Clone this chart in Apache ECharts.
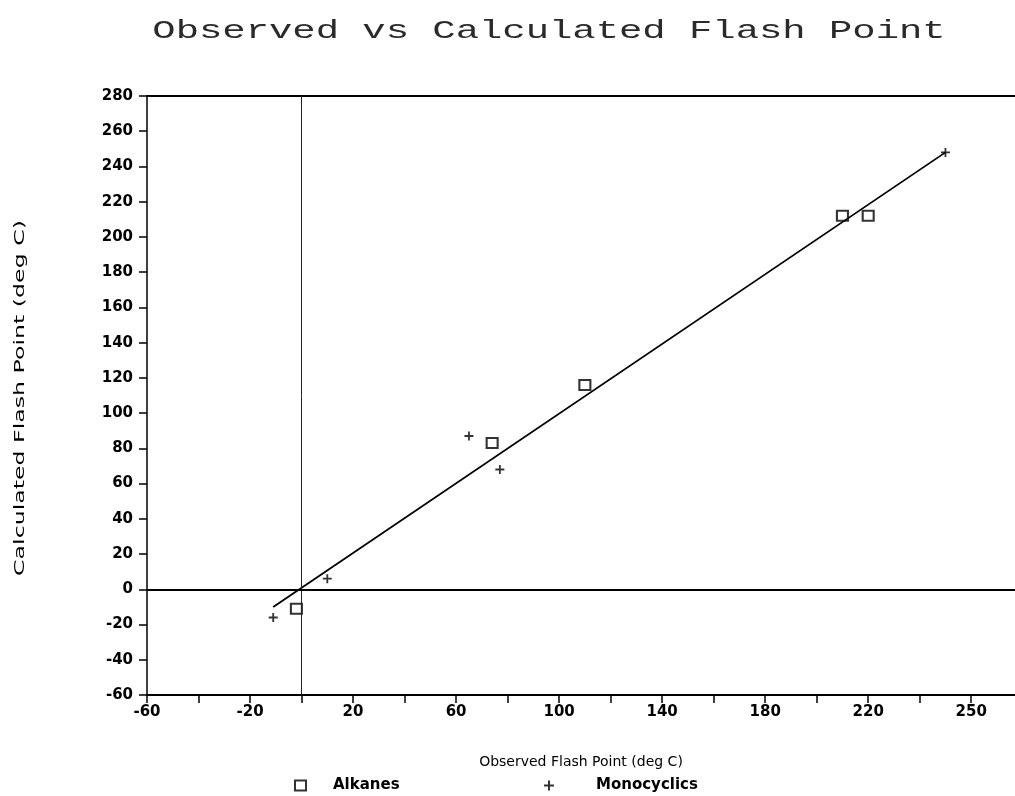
<!DOCTYPE html>
<html><head><meta charset="utf-8">
<script src="https://cdn.jsdelivr.net/npm/echarts@6.0.0/dist/echarts.min.js"></script>
<style>html,body{margin:0;padding:0;background:#fff}#c{width:1015px;height:796px}</style>
</head><body><div id="c"></div>
<script>
// Data
const alkanesObserved   = [-2, 74, 110, 210, 220];
const alkanesCalculated = [-11, 83, 116, 212, 212];
const monoObserved      = [-11, 10, 65, 77, 250];
const monoCalculated    = [-16, 6, 87, 68, 248];
const fitObserved       = [-11, 250];
const fitCalculated     = [-10, 248];
const xLabelValues = [-60, -20, 20, 60, 100, 140, 180, 220, 260];
const xLabelTexts  = ['-60', '-20', '20', '60', '100', '140', '180', '220', '250'];

const zip = (a, b) => a.map((v, i) => [v, b[i]]);
const PLUS = 'path://M4,0H6V4H10V6H6V10H4V6H0V4H4Z';
const labelFont = '"DejaVu Sans", sans-serif';
const X_MIN = -60, X_MAX = 277, Y_MIN = -60, Y_MAX = 280;

const chart = echarts.init(document.getElementById('c'), null, {renderer: 'canvas'});
chart.setOption({
  backgroundColor: '#fff',
  animation: false,
  grid: {left: 147, right: 0, top: 96, bottom: 101},
  graphic: [
    {type: 'text', x: 549, y: 31, scaleX: 1.08, scaleY: 0.74,
     style: {text: 'Observed vs Calculated Flash Point', font: '36px "Liberation Mono", monospace',
             fill: '#2a2a2a', align: 'center', verticalAlign: 'middle'}},
    {type: 'text', x: 20, y: 398, rotation: Math.PI / 2, scaleX: 1.69,
     style: {text: 'Calculated Flash Point (deg C)', font: '14px ' + labelFont,
             fill: '#000', align: 'center', verticalAlign: 'middle'}}
  ],
  legend: [
    {data: ['Alkanes'], left: 289, top: 773, itemWidth: 11, itemHeight: 10,
     textStyle: {fontFamily: labelFont, fontSize: 15, fontWeight: 'bold', color: '#000', padding: [0, 0, 0, 22]}},
    {data: ['Monocyclics'], left: 539, top: 773, itemWidth: 10, itemHeight: 10,
     textStyle: {fontFamily: labelFont, fontSize: 15, fontWeight: 'bold', color: '#000', padding: [0, 0, 0, 37]}}
  ],
  xAxis: [
    {type: 'value', min: X_MIN, max: X_MAX, interval: 20,
     name: 'Observed Flash Point (deg C)', nameLocation: 'middle', nameGap: 60,
     nameTextStyle: {fontFamily: labelFont, fontSize: 14, color: '#000'},
     axisLine: {onZero: false, lineStyle: {color: '#000', width: 2}},
     axisTick: {length: 8, lineStyle: {color: '#000', width: 1.5}},
     axisLabel: {margin: 10, fontFamily: labelFont, fontSize: 15, fontWeight: 'bold', color: '#000',
       showMaxLabel: false,
       formatter: v => { const i = xLabelValues.indexOf(v); return i >= 0 ? xLabelTexts[i] : ''; }},
     splitLine: {show: false}},
    {type: 'value', position: 'top', min: X_MIN, max: X_MAX, interval: 20,
     axisLine: {onZero: false, show: true, lineStyle: {color: '#000', width: 2}},
     axisTick: {show: false}, axisLabel: {show: false}, splitLine: {show: false}}
  ],
  yAxis: {type: 'value', min: Y_MIN, max: Y_MAX, interval: 20,
    axisLine: {onZero: false, show: true, lineStyle: {color: '#000', width: 1.5}},
    axisTick: {show: true, length: 8, lineStyle: {color: '#000', width: 1.5}},
    axisLabel: {margin: 14, fontFamily: labelFont, fontSize: 15, fontWeight: 'bold', color: '#000'},
    splitLine: {show: false}},
  series: [
    {name: 'Fit', type: 'line', data: zip(fitObserved, fitCalculated), showSymbol: false,
     lineStyle: {color: '#000', width: 1.8}, silent: true,
     markLine: {silent: true, symbol: ['none', 'none'], label: {show: false},
       data: [
         {xAxis: 0, lineStyle: {color: '#222', width: 1, type: 'solid'}},
         {yAxis: 0, lineStyle: {color: '#000', width: 2, type: 'solid'}}
       ]}},
    {name: 'Alkanes', type: 'scatter', data: zip(alkanesObserved, alkanesCalculated),
     symbol: 'emptyRect', symbolSize: [11, 10],
     itemStyle: {color: '#000', borderColor: '#000', borderWidth: 2}},
    {name: 'Monocyclics', type: 'scatter', data: zip(monoObserved, monoCalculated),
     symbol: PLUS, symbolSize: 9, itemStyle: {color: '#000'}}
  ]
});
</script></body></html>
